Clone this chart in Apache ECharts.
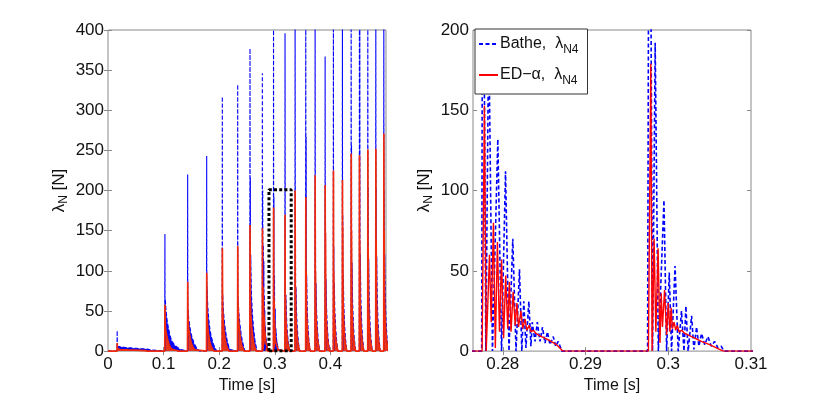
<!DOCTYPE html>
<html>
<head>
<meta charset="utf-8">
<title>contact force lambda_N4</title>
<style>
  html, body { margin: 0; padding: 0; background: #fff; }
  #main { width: 830px; height: 399px; }
</style>
<script src="https://cdn.jsdelivr.net/npm/echarts@6/dist/echarts.min.js"></script>
</head>
<body>
<div id="main"></div>
<script>
// impact instants [s]
var impactT = [0.0165, 0.1024, 0.1433, 0.1775, 0.2056, 0.2333, 0.2554, 0.27758, 0.29772,
               0.3184, 0.3365, 0.3557, 0.3725, 0.3905, 0.4054, 0.4216, 0.4373, 0.4522,
               0.4673, 0.4817, 0.4961];

// Bathe, lambda_N4 : per impact, [offset after impact (ms), value (N)]
var batheImpacts = [
  [[-0.3,0],[0,25.5],[0.3,0],[0.5,6],[4,5],[14,4.5],[24,4],[34,3.5],[44,3],[54,2.5],[60,1.5],[62,0]],
  [[-0.3,0],[0,146],[0.3,0],[0.6,65],[2,50],[4,38],[6,30],[9,20],[12,13],[18,7],[24,4],[28,2],[30,0]],
  [[-0.3,0],[0,220],[0.3,0],[0.6,52],[2,40],[4,30],[6,22],[9,15],[12,9],[16,4],[19,2],[21,0]],
  [[-0.3,0],[0,243],[0.3,0],[0.6,81],[2,55],[4,38],[6,26],[9,16],[12,9],[15,4],[18,0]],
  [[-0.3,0],[0,317],[0.3,0],[0.6,71],[2,50],[4,35],[6,24],[8.5,14],[11,7],[13.5,2],[15,0]],
  [[-0.3,0],[0,332],[0.3,0],[0.6,68],[2,48],[4,33],[6,22],[8.5,12],[11,5],[13,0]],
  [[-0.3,0],[0,377],[0.3,0],[0.6,216],[0.9,0],[1.3,120],[2.5,72],[4.3,47],[6.5,28],[9,13],[11.5,4],[12.5,0]],
  [[-0.13,0],[0,346],[0.37,0],[0.72,200],[1.17,0],[1.82,132],[2.27,0],[2.75,112],[3.17,0],[3.63,70],
   [4.02,0],[4.44,51],[4.72,0],[4.96,31],[5.22,2],[5.57,31],[5.82,3],[5.98,18],[6.32,6],[6.59,18],
   [6.92,6],[7.22,15],[7.52,5],[7.82,12],[8.12,4],[8.52,9],[8.82,3],[9.12,6],[9.42,2],[9.56,0]],
  [[-0.22,0],[0,430],[0.38,0],[0.7,192],[1.08,0],[1.76,94],[2.08,0],[2.4,49],[2.68,0],[3.1,53],
   [3.48,0],[3.88,25],[4.18,0],[4.41,28],[4.68,0],[5.1,22],[5.38,1],[5.7,15],[5.98,3],[6.31,11],
   [6.68,4],[7.08,9],[7.48,3],[7.88,6],[8.28,2],[8.68,3],[9.03,0]],
  [[-0.3,0],[0,396],[0.4,0],[0.7,115],[1.1,0],[1.6,70],[2.5,45],[4,25],[5.5,14],[7,6],[8.5,0]],
  [[-0.3,0],[0,430],[0.4,0],[0.7,140],[1.1,0],[1.6,80],[2.5,50],[4,28],[5.5,15],[7,6],[8.5,0]],
  [[-0.3,0],[0,430],[0.4,0],[0.7,267],[1.1,0],[1.6,95],[2.5,55],[4,30],[5.5,15],[7,6],[8.5,0]],
  [[-0.3,0],[0,430],[0.4,0],[0.7,150],[1.1,0],[1.6,85],[2.5,52],[4,30],[5.5,15],[7,6],[8,0]],
  [[-0.3,0],[0,367],[0.4,0],[0.7,160],[1.1,0],[1.6,90],[2.5,55],[4,30],[5.5,15],[7,6],[8,0]],
  [[-0.3,0],[0,430],[0.4,0],[0.7,130],[1.1,0],[1.6,85],[2.5,52],[4,30],[5.5,15],[7,6],[8,0]],
  [[-0.3,0],[0,430],[0.4,0],[0.7,170],[1.1,0],[1.6,95],[2.5,58],[4,32],[5.5,16],[7,6],[8,0]],
  [[-0.3,0],[0,430],[0.4,0],[0.7,256],[1.1,0],[1.6,110],[2.5,65],[4,35],[5.5,17],[7,7],[8,0]],
  [[-0.3,0],[0,430],[0.4,0],[0.7,430],[1.1,0],[1.6,120],[2.5,68],[4,36],[5.5,18],[7,7],[8,0]],
  [[-0.3,0],[0,430],[0.4,0],[0.7,205],[1.1,0],[1.6,115],[2.5,66],[4,35],[5.5,17],[7,7],[8,0]],
  [[-0.3,0],[0,430],[0.4,0],[0.7,203],[1.1,0],[1.6,118],[2.5,68],[4,36],[5.5,18],[7,7],[8,0]],
  [[-0.3,0],[0,430],[0.4,0],[0.7,200],[1.1,0],[1.6,120],[2.5,70],[4,38],[5.5,19],[7,8],[8,0]]
];

// ED-alpha, lambda_N4 : same layout
var edImpacts = [
  [[-0.3,0],[0.1,10],[0.4,0],[0.6,3],[5,2],[20,1.5],[40,1],[50,0.5],[54,0]],
  [[-0.3,0],[0.1,57.6],[0.5,35],[1.5,25],[3,20],[5,14],[7.5,8],[10,4],[14,2],[20,1],[24,0]],
  [[-0.3,0],[0.1,86],[0.5,45],[1.5,30],[3,22],[5,14],[7.5,8],[10,4],[13,1.5],[16,0]],
  [[-0.3,0],[0.1,97.5],[0.5,48],[1.5,33],[3,22],[5,13],[7.5,7],[10,3],[13,0]],
  [[-0.3,0],[0.1,128],[0.5,55],[1.5,38],[3,25],[5,15],[7,8],[9.5,3],[12,0]],
  [[-0.3,0],[0.1,131],[0.5,58],[1.5,40],[3,26],[5,15],[7,8],[9.5,3],[11.5,0]],
  [[-0.3,0],[0.1,157],[0.5,65],[1.5,45],[3,30],[5,17],[7,9],[9.5,3],[11,0]],
  [[-0.08,0],[0.2,153],[0.42,0],[0.81,60],[1.02,18],[1.29,80],[1.52,2],[1.77,68],[2.02,12],[2.27,57],
   [2.52,8],[2.77,47],[3.02,14],[3.22,43],[3.42,12],[3.67,37],[3.92,16],[4.12,30],[4.32,15],[4.62,25],
   [4.82,14],[5.12,20],[5.32,13],[5.62,16],[5.82,12],[6.12,13],[6.42,11],[6.92,9.5],[7.92,7],[8.92,4],[9.67,0]],
  [[-0.12,0],[0.17,179],[0.33,0],[0.57,70],[0.78,12],[1.05,64],[1.28,5],[1.43,36],[1.58,15],[1.83,38],
   [2.08,10],[2.28,30],[2.48,12],[2.63,27],[2.78,14],[2.98,18],[3.18,13],[3.38,16],[3.58,12],[3.88,13],
   [4.28,11],[5.28,8.5],[6.28,6],[7.28,4],[8.28,1.5],[8.93,0]],
  [[-0.2,0],[0.1,170],[0.4,0],[0.6,70],[1.2,45],[2.2,30],[3.5,17],[5,10],[6.5,5],[8.5,0]],
  [[-0.2,0],[0.1,200],[0.4,0],[0.6,80],[1.2,50],[2.2,32],[3.5,18],[5,10],[6.5,5],[8,0]],
  [[-0.2,0],[0.1,192],[0.4,0],[0.6,101],[1.2,55],[2.2,35],[3.5,20],[5,11],[6.5,5],[8,0]],
  [[-0.2,0],[0.1,219],[0.4,0],[0.6,100],[1.2,55],[2.2,35],[3.5,20],[5,11],[6.5,5],[8,0]],
  [[-0.2,0],[0.1,207],[0.4,0],[0.6,147],[1.2,60],[2.2,37],[3.5,21],[5,11],[6.5,5],[8,0]],
  [[-0.2,0],[0.1,225],[0.4,0],[0.6,100],[1.2,58],[2.2,36],[3.5,20],[5,11],[6.5,5],[8,0]],
  [[-0.2,0],[0.1,213],[0.4,0],[0.6,155],[1.2,62],[2.2,38],[3.5,21],[5,11],[6.5,5],[8,0]],
  [[-0.2,0],[0.1,246],[0.4,0],[0.6,150],[1.2,65],[2.2,40],[3.5,22],[5,12],[6.5,5],[8,0]],
  [[-0.2,0],[0.1,244],[0.4,0],[0.6,138],[1.2,65],[2.2,40],[3.5,22],[5,12],[6.5,5],[8,0]],
  [[-0.2,0],[0.1,251],[0.4,0],[0.6,128],[1.2,65],[2.2,40],[3.5,22],[5,12],[6.5,5],[8,0]],
  [[-0.2,0],[0.1,252],[0.4,0],[0.6,138],[1.2,66],[2.2,41],[3.5,23],[5,12],[6.5,5],[8,0]],
  [[-0.2,0],[0.1,271],[0.4,0],[0.6,150],[1.2,70],[2.2,43],[3.5,24],[5,13],[6.5,6],[8,0]]
];

// dotted zoom window drawn on the left plot
var zoomBoxT = [0.2895, 0.2895, 0.3295, 0.3295, 0.2895];
var zoomBoxV = [0, 201, 201, 0, 0];

var xLabelsLeft = [0, 0.1, 0.2, 0.3, 0.4];
var xTicksLeft = [0.1, 0.2, 0.3, 0.4];
var xLabelsRight = [0.28, 0.29, 0.3, 0.31];
var xTicksRight = [0.28, 0.29, 0.3];

function buildSeries(impacts) {
  var pts = [[0, 0]];
  for (var i = 0; i < impacts.length; i++) {
    for (var j = 0; j < impacts[i].length; j++) {
      var p = impacts[i][j];
      pts.push([+(impactT[i] + p[0] / 1000).toFixed(6), p[1]]);
    }
  }
  return pts;
}
var batheData = buildSeries(batheImpacts);
var edData = buildSeries(edImpacts);
var boxData = zoomBoxT.map(function (t, i) { return [t, zoomBoxV[i]]; });

var FONT = 'Liberation Sans, Arial, sans-serif';
var frame = '#8a8a8a';
var labelStyle = { fontSize: 17, color: '#111', fontFamily: FONT };

function xAxisPair(grid, min, max, labels, ticks) {
  return [{
    gridIndex: grid, type: 'value', min: min, max: max, position: 'bottom',
    axisLine: { show: false }, splitLine: { show: false },
    axisTick: { inside: true, length: 4, customValues: ticks, lineStyle: { color: frame } },
    axisLabel: Object.assign({ customValues: labels, margin: 5 }, labelStyle),
    name: 'Time [s]', nameLocation: 'middle', nameGap: 21,
    nameTextStyle: { fontSize: 16, color: '#111', fontFamily: FONT }
  }, {
    gridIndex: grid, type: 'value', min: min, max: max, position: 'top',
    axisLine: { show: false }, splitLine: { show: false }, axisLabel: { show: false },
    axisTick: { inside: true, length: 4, customValues: ticks, lineStyle: { color: frame } }
  }];
}
function yAxisPair(grid, max) {
  return [{
    gridIndex: grid, type: 'value', min: 0, max: max, interval: 50,
    axisLine: { show: false }, splitLine: { show: false },
    axisTick: { inside: true, length: 4, lineStyle: { color: frame } },
    axisLabel: Object.assign({ margin: 4 }, labelStyle),
    name: '{l|λ}{s|N}{l| [N]}', nameLocation: 'middle', nameGap: 38, nameRotate: 90,
    nameTextStyle: {
      color: '#111', fontFamily: FONT,
      rich: { l: { fontSize: 17, fontFamily: FONT, color: '#111' },
              s: { fontSize: 12, fontFamily: FONT, color: '#111', padding: [10, 0, 0, 0] } }
    }
  }, {
    gridIndex: grid, type: 'value', min: 0, max: max, interval: 50, position: 'right',
    axisLine: { show: false }, splitLine: { show: false }, axisLabel: { show: false },
    axisTick: { inside: true, length: 4, lineStyle: { color: frame } }
  }];
}

var chart = echarts.init(document.getElementById('main'));
chart.setOption({
  animation: false,
  backgroundColor: '#fff',
  grid: [
    { left: 108, top: 30, width: 278, height: 324, show: true, borderColor: frame, borderWidth: 1 },
    { left: 473, top: 30, width: 278, height: 324, show: true, borderColor: frame, borderWidth: 1 }
  ],
  xAxis: xAxisPair(0, 0, 0.5, xLabelsLeft, xTicksLeft)
    .concat(xAxisPair(1, 0.2764, 0.31, xLabelsRight, xTicksRight)),
  yAxis: yAxisPair(0, 400).concat(yAxisPair(1, 200)),
  legend: {
    data: ['Bathe', 'ED'],
    left: 475, top: 29, orient: 'vertical',
    backgroundColor: '#fff', borderColor: '#333', borderWidth: 1,
    padding: [7, 9, 7, 3], itemGap: 11, itemWidth: 19, itemHeight: 14,
    itemStyle: { opacity: 0 },
    formatter: function (name) {
      return name === 'Bathe' ? '{t|Bathe,  λ}{s|N4}' : '{t|ED\u2212α,  λ}{s|N4}';
    },
    textStyle: {
      fontFamily: FONT, color: '#111', padding: [0, 0, 0, -3],
      rich: { t: { fontSize: 16, fontFamily: FONT, color: '#111' },
              s: { fontSize: 12, fontFamily: FONT, color: '#111', padding: [12, 0, 0, 0] } }
    }
  },
  series: [
    { name: 'Bathe full', type: 'line', xAxisIndex: 0, yAxisIndex: 0, data: batheData,
      symbol: 'none', silent: true,
      lineStyle: { color: '#0000ff', width: 1.1, type: [4, 2] },
      areaStyle: { color: '#0a0af5', opacity: 1 } },
    { name: 'ED full', type: 'line', xAxisIndex: 0, yAxisIndex: 0, data: edData,
      symbol: 'none', silent: true,
      lineStyle: { color: '#f02a0a', width: 1.7 },
      areaStyle: { color: '#e6361c', opacity: 1 } },
    { name: 'zoom window', type: 'line', xAxisIndex: 0, yAxisIndex: 0, data: boxData,
      symbol: 'none', silent: true,
      lineStyle: { color: '#000', width: 3, type: [3, 2.2] } },
    { name: 'Bathe', type: 'line', xAxisIndex: 2, yAxisIndex: 2, data: batheData,
      symbol: 'none', silent: true, itemStyle: { color: '#0000ff' },
      lineStyle: { color: '#0000ff', width: 1.6, type: [4, 2.5] } },
    { name: 'ED', type: 'line', xAxisIndex: 2, yAxisIndex: 2, data: edData,
      symbol: 'none', silent: true, itemStyle: { color: '#ff0000' },
      lineStyle: { color: '#ff0000', width: 1.4 } }
  ]
});
</script>
</body>
</html>
